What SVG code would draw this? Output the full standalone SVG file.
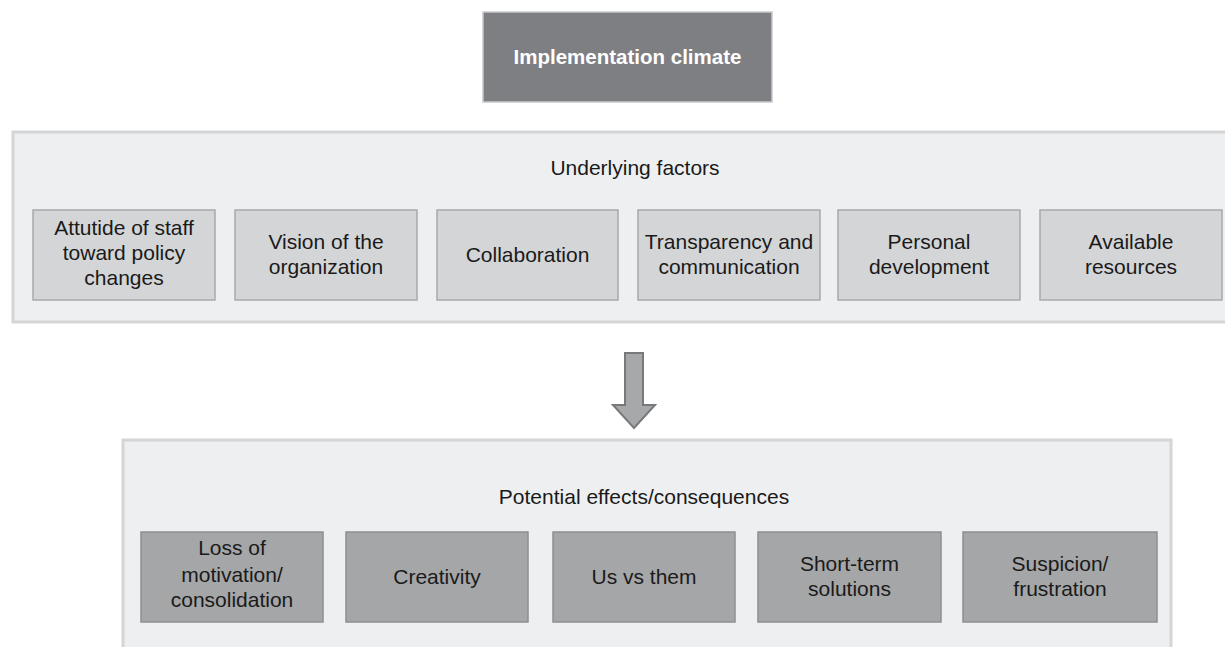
<svg xmlns="http://www.w3.org/2000/svg" width="1225" height="647" viewBox="0 0 1225 647">
<style>
  text { font-family: "Liberation Sans", Arial, sans-serif; font-size: 21px; fill: #1a1a1a; text-anchor: middle; }
  .title { fill: #ffffff; font-weight: bold; font-size: 20.5px; }
  .container { fill: #eeeff0; stroke: #d4d5d6; stroke-width: 3; }
  .factor { fill: #d4d5d7; stroke: #a8a9ab; stroke-width: 1.5; }
  .effect { fill: #a5a6a8; stroke: #8e8f91; stroke-width: 1.5; }
</style>
<rect width="1225" height="647" fill="#ffffff"/>

<g id="implementation-climate">
  <rect x="483" y="12" width="289" height="90" fill="#7e7f82" stroke="#c8c9cb" stroke-width="1.5"/>
  <text class="title" x="627.5" y="64">Implementation climate</text>
</g>

<g id="underlying-factors">
  <rect class="container" x="13" y="132" width="1215" height="190"/>
  <text x="635" y="175">Underlying factors</text>
</g>

<g id="f1">
  <rect class="factor" x="33" y="210" width="182" height="90"/>
  <text x="124" y="235">Attutide of staff</text>
  <text x="124" y="260">toward policy</text>
  <text x="124" y="285">changes</text>
</g>
<g id="f2">
  <rect class="factor" x="235" y="210" width="182" height="90"/>
  <text x="326" y="249">Vision of the</text>
  <text x="326" y="274">organization</text>
</g>
<g id="f3">
  <rect class="factor" x="437" y="210" width="181" height="90"/>
  <text x="527.5" y="262">Collaboration</text>
</g>
<g id="f4">
  <rect class="factor" x="638" y="210" width="182" height="90"/>
  <text x="729" y="249">Transparency and</text>
  <text x="729" y="274">communication</text>
</g>
<g id="f5">
  <rect class="factor" x="838" y="210" width="182" height="90"/>
  <text x="929" y="249">Personal</text>
  <text x="929" y="274">development</text>
</g>
<g id="f6">
  <rect class="factor" x="1040" y="210" width="182" height="90"/>
  <text x="1131" y="249">Available</text>
  <text x="1131" y="274">resources</text>
</g>

<g id="connectors">
  <path d="M625,353 L643,353 L643,405 L655,405 L634,428 L613,405 L625,405 Z" fill="#a7a8aa" stroke="#78797b" stroke-width="2" stroke-linejoin="miter"/>
</g>

<g id="potential-effects">
  <rect class="container" x="123" y="440" width="1048" height="215"/>
  <text x="644" y="504">Potential effects/consequences</text>
</g>

<g id="e1">
  <rect class="effect" x="141" y="532" width="182" height="90"/>
  <text x="232" y="555">Loss of</text>
  <text x="232" y="582">motivation/</text>
  <text x="232" y="607">consolidation</text>
</g>
<g id="e2">
  <rect class="effect" x="346" y="532" width="182" height="90"/>
  <text x="437" y="584">Creativity</text>
</g>
<g id="e3">
  <rect class="effect" x="553" y="532" width="182" height="90"/>
  <text x="644" y="584">Us vs them</text>
</g>
<g id="e4">
  <rect class="effect" x="758" y="532" width="183" height="90"/>
  <text x="849.5" y="571">Short-term</text>
  <text x="849.5" y="596">solutions</text>
</g>
<g id="e5">
  <rect class="effect" x="963" y="532" width="194" height="90"/>
  <text x="1060" y="571">Suspicion/</text>
  <text x="1060" y="596">frustration</text>
</g>
</svg>
